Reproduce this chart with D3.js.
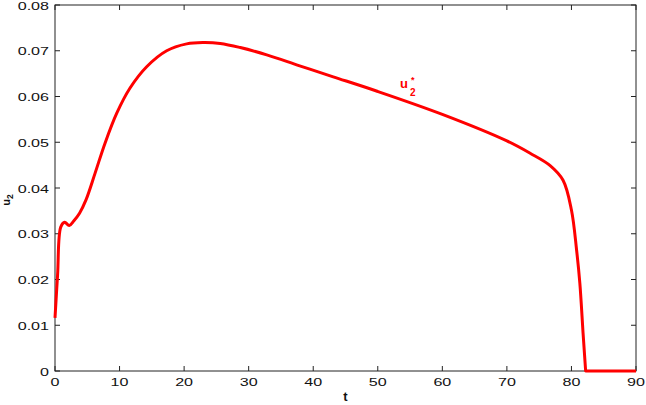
<!DOCTYPE html>
<html><head><meta charset="utf-8">
<script src="https://cdn.jsdelivr.net/npm/d3@7"></script>
<style>body{margin:0;background:#fff}svg{display:block}</style>
</head><body>
<script>
const tValues = [0, 0.4, 0.9, 1.5, 2.2, 2.9, 3.8, 4.8, 6.2, 7.75, 9.55, 11.6, 14.2, 17.3, 20.4, 22.9, 25.6, 28.7, 32.8, 37.9, 43.1, 49.8, 60, 70, 73.6, 76.7, 78.7, 80.0, 80.8, 81.3, 81.8, 82.2, 90];
const uValues = [0.0116, 0.021, 0.0315, 0.0325, 0.0318, 0.0328, 0.0345, 0.0374, 0.0432, 0.0498, 0.0563, 0.0618, 0.0665, 0.0700, 0.0715, 0.0718, 0.0716, 0.0707, 0.0691, 0.0667, 0.0643, 0.0612, 0.0561, 0.0503, 0.0476, 0.0449, 0.0417, 0.0352, 0.0264, 0.0192, 0.0083, 0, 0];
const xTicks = [0, 10, 20, 30, 40, 50, 60, 70, 80, 90];
const yTicks = [0, 0.01, 0.02, 0.03, 0.04, 0.05, 0.06, 0.07, 0.08];
const yTickLabels = ["0", "0.01", "0.02", "0.03", "0.04", "0.05", "0.06", "0.07", "0.08"];

const W = 646, H = 405;
const L = 55, R = 636, T = 5, B = 371;
const svg = d3.select("body").append("svg").attr("width", W).attr("height", H);
const x = d3.scaleLinear().domain([0, 90]).range([L, R]);
const y = d3.scaleLinear().domain([0, 0.08]).range([B, T]);
const font = "'Liberation Sans', Arial, sans-serif";
const sx = 1.4;

svg.append("rect").attr("x", L).attr("y", T).attr("width", R - L).attr("height", B - T)
  .attr("fill", "none").attr("stroke", "#222").attr("stroke-width", 1);

const tk = 5;
const g = svg.append("g").attr("stroke", "#222").attr("stroke-width", 1);
xTicks.forEach(v => {
  g.append("line").attr("x1", x(v)).attr("x2", x(v)).attr("y1", B).attr("y2", B - tk);
  g.append("line").attr("x1", x(v)).attr("x2", x(v)).attr("y1", T).attr("y2", T + tk);
});
yTicks.forEach(v => {
  g.append("line").attr("x1", L).attr("x2", L + tk).attr("y1", y(v)).attr("y2", y(v));
  g.append("line").attr("x1", R).attr("x2", R - tk).attr("y1", y(v)).attr("y2", y(v));
});

xTicks.forEach(v => {
  svg.append("g").attr("transform", `translate(${x(v)},${B + 15}) scale(${sx},1)`)
    .append("text").attr("text-anchor", "middle").attr("font-family", font)
    .attr("font-size", 11.5).attr("fill", "#111").text(String(v));
});
yTicks.forEach((v, i) => {
  svg.append("g").attr("transform", `translate(${L - 6},${y(v) + 4.5}) scale(${sx},1)`)
    .append("text").attr("text-anchor", "end").attr("font-family", font)
    .attr("font-size", 11.5).attr("fill", "#111").text(yTickLabels[i]);
});

svg.append("text").attr("x", (L + R) / 2).attr("y", 401).attr("text-anchor", "middle")
  .attr("font-family", font).attr("font-weight", "bold").attr("font-size", 13).attr("fill", "#111").text("t");
const yl = svg.append("text").attr("transform", "translate(10,200) rotate(-90)")
  .attr("text-anchor", "middle").attr("font-family", font).attr("font-weight", "bold")
  .attr("font-size", 11).attr("fill", "#111");
yl.append("tspan").text("u");
yl.append("tspan").attr("dy", 3).attr("font-size", 8.5).text("2");

const data = tValues.map((t, i) => [t, uValues[i]]);
const iz = uValues.indexOf(0);
const smooth = data.slice(0, iz + 1);
const flat = data.slice(iz);
const lineS = d3.line().x(d => x(d[0])).y(d => Math.min(B, y(d[1]))).curve(d3.curveCatmullRom.alpha(0.5));
const lineF = d3.line().x(d => x(d[0])).y(d => y(d[1]));
svg.append("path").attr("d", lineS(smooth) + lineF(flat).replace(/^M/, "L"))
  .attr("fill", "none").attr("stroke", "#ff0000").attr("stroke-width", 3).attr("stroke-linejoin", "round");

const lab = svg.append("text").attr("x", 400).attr("y", 88).attr("font-family", font)
  .attr("font-weight", "bold").attr("font-size", 13).attr("fill", "#ff0000");
lab.append("tspan").text("u");
lab.append("tspan").attr("x", 410).attr("y", 96).attr("font-size", 10).text("2");
lab.append("tspan").attr("x", 411).attr("y", 83).attr("font-size", 9).text("*");
</script>
</body></html>
